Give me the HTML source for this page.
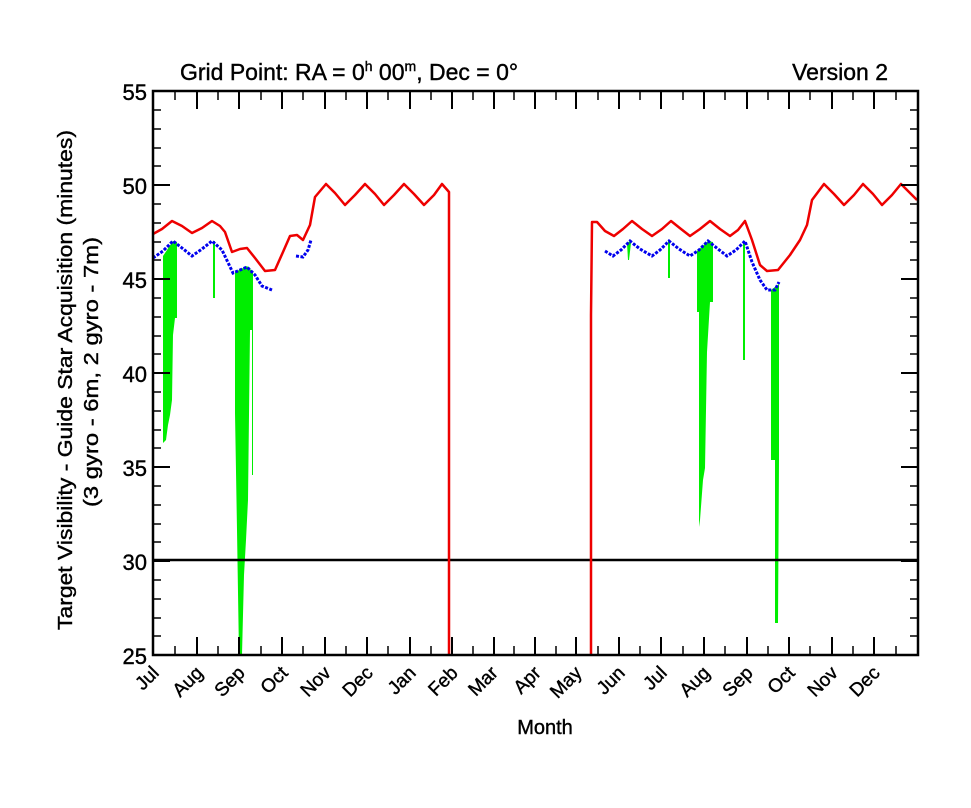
<!DOCTYPE html>
<html><head><meta charset="utf-8"><style>body{margin:0;background:#fff}svg{display:block}</style></head>
<body>
<svg width="971" height="808" viewBox="0 0 971 808" xmlns="http://www.w3.org/2000/svg" font-family="'Liberation Sans', 'DejaVu Sans', sans-serif">
<rect width="971" height="808" fill="#fff"/>
<g fill="#00ee00">
<polygon points="163,256 173,241 177,242 177,318 175,318 173,335 172,400 170,415 168,425 166,440 163,443"/>
<rect x="213" y="241" width="2" height="57"/>
<polygon points="235,272 247,266 253,272 253,475 252,475 252,330 250,330 248,500 246,540 244,575 242,655 239,655 237,530 235,413"/>
<polygon points="627,243 630,241 631,243 629,260 628,260"/>
<rect x="668" y="241" width="2" height="37"/>
<polygon points="697,251 708,241 713,242 713,302 710,302 707,352 705,468 703,480 700,520 699,527 699,312 697,312"/>
<rect x="743" y="241" width="2" height="119"/>
<polygon points="771,290 779,284 779,460 778,623 775,623 775,460 771,460"/>
</g>
<line x1="153" y1="560" x2="918" y2="560" stroke="#000" stroke-width="2.5"/>
<g fill="none" stroke="#ee0000" stroke-width="2.5" stroke-linejoin="round">
<polyline points="153,234 162,229 172,221 182,226 192,233 202,228 212,221 220,226 225,232 232,252 240,249 247,248 255,258 265,271 275,270 283,252 290,236 297,235 303,240 310,225 315,197 326,184 335,193 345,205 355,195 365,184 375,194 384,205 394,195 404,184 414,194 424,205 434,195 442,184 449,192 449,655"/>
<polyline points="591,655 591,315 592,222 597,222 605,231 614,236 623,229 632,221 642,229 652,236 662,229 671,221 681,229 690,236 700,229 710,221 720,229 730,236 738,230 745,221 752,240 760,265 767,271 778,270 790,255 800,240 807,225 812,200 824,184 834,194 844,205 854,195 863,184 873,194 882,205 892,195 901,184 912,195 917,200"/>
</g>
<g fill="none" stroke="#0000ee" stroke-width="3" stroke-dasharray="3,1.5">
<polyline points="153,258 163,251 173,241 182,248 192,256 202,249 212,241 222,250 233,273 247,267 255,275 262,286 272,290"/>
<polyline points="296,256 303,257 308,250 311,240"/>
<polyline points="605,251 613,256 621,250 630,241 640,249 652,256 660,250 669,241 679,249 690,256 699,250 708,241 718,249 727,256 736,250 745,241 752,262 760,280 767,290 775,290 779,282"/>
</g>
<rect x="153" y="91" width="765" height="564" fill="none" stroke="#000" stroke-width="2.5"/>
<g stroke="#000" stroke-width="2">
<path d="M153 91h17M153 185h17M153 279h17M153 373h17M153 467h17M153 561h17M918 91h-17M918 185h-17M918 279h-17M918 373h-17M918 467h-17M918 561h-17"/>
<path stroke-width="1.5" d="M153 110h8M153 129h8M153 148h8M153 166h8M153 204h8M153 223h8M153 242h8M153 260h8M153 298h8M153 317h8M153 336h8M153 354h8M153 392h8M153 411h8M153 430h8M153 448h8M153 486h8M153 505h8M153 524h8M153 542h8M153 580h8M153 599h8M153 618h8M153 636h8M918 110h-8M918 129h-8M918 148h-8M918 166h-8M918 204h-8M918 223h-8M918 242h-8M918 260h-8M918 298h-8M918 317h-8M918 336h-8M918 354h-8M918 392h-8M918 411h-8M918 430h-8M918 448h-8M918 486h-8M918 505h-8M918 524h-8M918 542h-8M918 580h-8M918 599h-8M918 618h-8M918 636h-8"/>
<path d="M197 655v-18M239 655v-18M282 655v-18M325 655v-18M367 655v-18M410 655v-18M452 655v-18M494 655v-18M535 655v-18M576 655v-18M619 655v-18M661 655v-18M704 655v-18M747 655v-18M789 655v-18M832 655v-18M874 655v-18M197 91v18M239 91v18M282 91v18M325 91v18M367 91v18M410 91v18M452 91v18M494 91v18M535 91v18M576 91v18M619 91v18M661 91v18M704 91v18M747 91v18M789 91v18M832 91v18M874 91v18"/>
<path stroke-width="1.5" d="M175 655v-9M218 655v-9M261 655v-9M303 655v-9M346 655v-9M388 655v-9M431 655v-9M473 655v-9M514 655v-9M556 655v-9M598 655v-9M640 655v-9M683 655v-9M725 655v-9M768 655v-9M810 655v-9M853 655v-9M896 655v-9M175 91v9M218 91v9M261 91v9M303 91v9M346 91v9M388 91v9M431 91v9M473 91v9M514 91v9M556 91v9M598 91v9M640 91v9M683 91v9M725 91v9M768 91v9M810 91v9M853 91v9M896 91v9"/>
</g>
<g font-size="22" text-anchor="end" fill="#000" stroke="#000" stroke-width="0.4">
<text x="147" y="100">55</text><text x="147" y="194">50</text><text x="147" y="288">45</text><text x="147" y="382">40</text><text x="147" y="476">35</text><text x="147" y="570">30</text><text x="147" y="664">25</text>
</g>
<g font-size="19" text-anchor="end" fill="#000" stroke="#000" stroke-width="0.4">
<text transform="translate(160,674) rotate(-45)">Jul</text>
<text transform="translate(204,674) rotate(-45)">Aug</text>
<text transform="translate(246,674) rotate(-45)">Sep</text>
<text transform="translate(289,674) rotate(-45)">Oct</text>
<text transform="translate(332,674) rotate(-45)">Nov</text>
<text transform="translate(374,674) rotate(-45)">Dec</text>
<text transform="translate(417,674) rotate(-45)">Jan</text>
<text transform="translate(459,674) rotate(-45)">Feb</text>
<text transform="translate(499,674) rotate(-45)">Mar</text>
<text transform="translate(542,674) rotate(-45)">Apr</text>
<text transform="translate(583,674) rotate(-45)">May</text>
<text transform="translate(626,674) rotate(-45)">Jun</text>
<text transform="translate(668,674) rotate(-45)">Jul</text>
<text transform="translate(711,674) rotate(-45)">Aug</text>
<text transform="translate(754,674) rotate(-45)">Sep</text>
<text transform="translate(796,674) rotate(-45)">Oct</text>
<text transform="translate(839,674) rotate(-45)">Nov</text>
<text transform="translate(881,674) rotate(-45)">Dec</text>
</g>
<g stroke="#000" stroke-width="0.4">
<text x="545" y="734" font-size="20" text-anchor="middle">Month</text>
<text x="180" y="80" font-size="23">Grid Point: RA = 0<tspan font-size="14" dy="-9">h</tspan><tspan dy="9"> 00</tspan><tspan font-size="14" dy="-9">m</tspan><tspan dy="9">, Dec = 0°</tspan></text>
<text x="888" y="80" font-size="23" text-anchor="end">Version 2</text>
<text transform="translate(72,380) rotate(-90)" font-size="20.5" text-anchor="middle" textLength="500" lengthAdjust="spacingAndGlyphs">Target Visibility - Guide Star Acquisition (minutes)</text>
<text transform="translate(98,372) rotate(-90)" font-size="20.5" text-anchor="middle" textLength="270" lengthAdjust="spacingAndGlyphs">(3 gyro - 6m, 2 gyro - 7m)</text>
</g>
</svg>
</body></html>
